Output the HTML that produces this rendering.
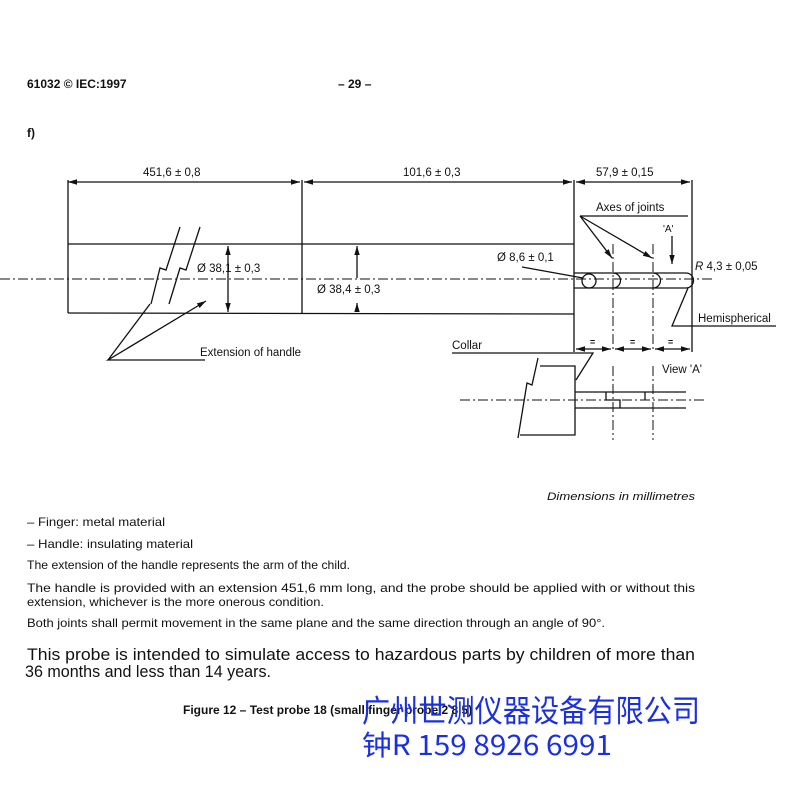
<!DOCTYPE html>
<html><head><meta charset="utf-8"><style>
html,body{margin:0;padding:0;background:#fff;}
svg{display:block;font-family:"Liberation Sans",Arial,sans-serif;}
</style></head><body>
<svg width="800" height="800" viewBox="0 0 800 800" xmlns="http://www.w3.org/2000/svg">
<defs>
<marker id="a" viewBox="0 0 10 10" refX="10" refY="5" markerWidth="7" markerHeight="7" orient="auto-start-reverse"><path d="M0,2 L10,5 L0,8 z" fill="#111"/></marker>
</defs>
<g fill="#111" font-size="11.5">
<text x="27" y="88" font-weight="bold" font-size="12">61032 © IEC:1997</text>
<text x="338" y="88" font-weight="bold" font-size="12">– 29 –</text>
<text x="27" y="137" font-weight="bold" font-size="12">f)</text>
<text x="143" y="176">451,6 ± 0,8</text>
<text x="403" y="176">101,6 ± 0,3</text>
<text x="596" y="176">57,9 ± 0,15</text>
<text x="596" y="211">Axes of joints</text>
<text x="663" y="232" font-size="10">'A'</text>
<text x="497" y="261">Ø 8,6 ± 0,1</text>
<text x="695" y="270"><tspan font-style="italic">R</tspan> 4,3 ± 0,05</text>
<text x="197" y="272">Ø 38,1 ± 0,3</text>
<text x="317" y="293">Ø 38,4 ± 0,3</text>
<text x="698" y="322">Hemispherical</text>
<text x="200" y="356">Extension of handle</text>
<text x="452" y="349">Collar</text>
<text x="662" y="373">View 'A'</text>
<text x="547" y="500" font-style="italic" font-size="11" textLength="148" lengthAdjust="spacingAndGlyphs">Dimensions in millimetres</text>
<g font-size="12">
<text x="27" y="526" textLength="138" lengthAdjust="spacingAndGlyphs">–  Finger: metal material</text>
<text x="27" y="548" textLength="166" lengthAdjust="spacingAndGlyphs">–  Handle: insulating material</text>
<text x="27" y="569" textLength="323" lengthAdjust="spacingAndGlyphs">The extension of the handle represents the arm of the child.</text>
<text x="27" y="592" textLength="668" lengthAdjust="spacingAndGlyphs">The handle is provided with an extension 451,6 mm long, and the probe should be applied with or without this</text>
<text x="27" y="606" textLength="297" lengthAdjust="spacingAndGlyphs">extension, whichever is the more onerous condition.</text>
<text x="27" y="627" textLength="578" lengthAdjust="spacingAndGlyphs">Both joints shall permit movement in the same plane and the same direction through an angle of 90°.</text>
</g>
<text x="27" y="660" font-size="16.5" textLength="668" lengthAdjust="spacingAndGlyphs">This probe is intended to simulate access to hazardous parts by children of more than</text>
<text x="25" y="677" font-size="16.5" textLength="246" lengthAdjust="spacingAndGlyphs">36 months and less than 14 years.</text>
<text x="183" y="714" font-weight="bold" font-size="12">Figure 12 – Test probe 18 (small finger probe 2 8 5)</text>
</g>
<g fill="none" stroke="#111" stroke-width="1.3">
<line x1="68" y1="182" x2="300" y2="182" marker-start="url(#a)" marker-end="url(#a)"/>
<line x1="304" y1="182" x2="572" y2="182" marker-start="url(#a)" marker-end="url(#a)"/>
<line x1="576" y1="182" x2="690" y2="182" marker-start="url(#a)" marker-end="url(#a)"/>
<line x1="68" y1="180" x2="68" y2="313"/>
<line x1="302" y1="180" x2="302" y2="314"/>
<line x1="574" y1="180" x2="574" y2="352"/>
<line x1="692" y1="180" x2="692" y2="352"/>
<line x1="68" y1="244" x2="574" y2="244"/>
<line x1="68" y1="313" x2="574" y2="314"/>
<path d="M180,227 L166,270 L160,268 L151,304"/>
<path d="M200,227 L186,270 L180,268 L169,304"/>
<line x1="228" y1="246" x2="228" y2="312" marker-start="url(#a)" marker-end="url(#a)"/>
<line x1="357" y1="246" x2="357" y2="278" marker-start="url(#a)"/>
<line x1="357" y1="303" x2="357" y2="312" marker-start="url(#a)"/>
<path d="M205,360 L108,360 L206,301" marker-end="url(#a)"/>
<line x1="150" y1="304" x2="108" y2="360"/>
<path d="M574,273 L686,273 A7.5,7.5 0 0 1 686,288 L574,288"/>
<circle cx="589" cy="281" r="7"/>
<path d="M613,273 A7,7 0 0 1 613,288"/><path d="M653,273 A7,7 0 0 1 653,288"/>
<line x1="580" y1="216" x2="688" y2="216"/>
<line x1="580" y1="216" x2="612" y2="258" marker-end="url(#a)"/>
<line x1="580" y1="216" x2="652" y2="258" marker-end="url(#a)"/>
<line x1="672" y1="236" x2="672" y2="264" marker-end="url(#a)"/>
<line x1="522" y1="267" x2="583" y2="278"/>
<path d="M776,326 L672,326 L688,288"/>
<line x1="576" y1="349" x2="611" y2="349" marker-start="url(#a)" marker-end="url(#a)"/>
<line x1="615" y1="349" x2="651" y2="349" marker-start="url(#a)" marker-end="url(#a)"/>
<line x1="655" y1="349" x2="690" y2="349" marker-start="url(#a)" marker-end="url(#a)"/>
<path d="M452,353 L593,353 L576,380"/>
<path d="M540,366 L575,366 L575,435 L520,435"/>
<path d="M538,358 L532,385 L527,383 L518,438"/>
<line x1="575" y1="392" x2="686" y2="392"/>
<line x1="575" y1="408" x2="686" y2="408"/>
<path d="M606,392 L606,400 L620,400 L620,408"/>
<path d="M645,392 L645,400"/>
</g>
<g fill="#111" font-size="9" font-weight="bold"><text x="590" y="345">=</text><text x="630" y="345">=</text><text x="668" y="345">=</text></g>
<g stroke="#111" stroke-width="1" stroke-dasharray="10,3,2,3" fill="none">
<line x1="0" y1="279" x2="712" y2="279"/>
<line x1="460" y1="400" x2="706" y2="400"/>
<line x1="613" y1="244" x2="613" y2="350"/>
<line x1="653" y1="244" x2="653" y2="350"/>
<line x1="613" y1="366" x2="613" y2="440"/>
<line x1="653" y1="366" x2="653" y2="440"/>
</g>
<g fill="#1a2fe0" font-family="'Noto Sans CJK SC','Liberation Sans',sans-serif">
<text x="362" y="722" font-size="31" textLength="338" lengthAdjust="spacingAndGlyphs">广州世测仪器设备有限公司</text>
<text x="362" y="755" font-size="28" textLength="250" lengthAdjust="spacingAndGlyphs">钟R 159 8926 6991</text>
</g>
</svg>
</body></html>
